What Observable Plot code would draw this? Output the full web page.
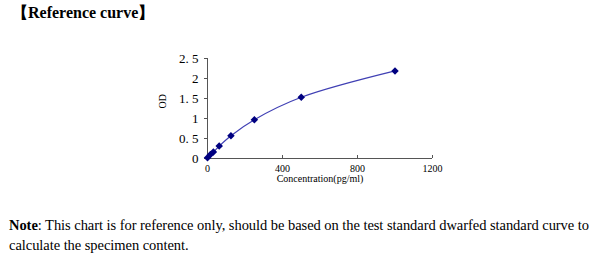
<!DOCTYPE html>
<html><head><meta charset="utf-8">
<script src="https://cdn.jsdelivr.net/npm/d3@7"></script>
<script src="https://cdn.jsdelivr.net/npm/@observablehq/plot@0.6"></script>
<style>
body{margin:0;background:#fff;width:600px;height:261px;overflow:hidden;position:relative;font-family:"Liberation Serif",serif;color:#000}
#head{position:absolute;left:12px;top:3px;font-size:16px;font-weight:bold}
#title{position:absolute;left:0;width:600px;top:35px;text-align:center;font-size:10px}
#chart{position:absolute;left:0;top:25px}
#note{position:absolute;left:9px;top:215px;width:590px;font-size:14.5px;line-height:20px;letter-spacing:-0.05px}
</style></head>
<body>
<div id="head">【Reference curve】</div>
<div id="title">Canine uPA</div>
<div id="chart"></div>
<div id="note"><b>Note</b>: This chart is for reference only, should be based on the test standard dwarfed standard curve to calculate the specimen content.</div>
<script>
const concentration = [0, 15.6, 31.25, 62.5, 125, 250, 500, 1000];
const od = [0.02, 0.1, 0.16, 0.31, 0.57, 0.97, 1.53, 2.19];
const xTicks = [0, 400, 800, 1200];
const yTicks = [0, 0.5, 1, 1.5, 2, 2.5];
const yTickLabels = ["0", "0. 5", "1", "1. 5", "2", "2. 5"];
const data = concentration.map((c, i) => ({c, v: od[i]}));

const chart = Plot.plot({
  width: 600, height: 175,
  marginLeft: 207, marginRight: 168, marginTop: 33, marginBottom: 42,
  style: {fontFamily: "Liberation Serif, serif", color: "#000", background: "#fff"},
  x: {domain: [0, 1200]},
  y: {domain: [0, 2.5]},
  marks: [
    Plot.ruleX([0], {stroke: "#555"}),
    Plot.ruleY([0], {stroke: "#555"}),
    Plot.axisY({ticks: yTicks, tickSize: 3, tickPadding: 6, stroke: "#555", fontSize: 13,
      tickFormat: (d) => yTickLabels[yTicks.indexOf(d)], label: null}),
    Plot.axisX({ticks: xTicks, tickSize: -3, tickPadding: 9, stroke: "#555", fontSize: 10,
      tickFormat: (d) => String(d), label: null}),
    Plot.text(["OD"], {frameAnchor: "left", dx: -45, rotate: -90, fontSize: 10}),
    Plot.text(["Concentration(pg/ml)"], {frameAnchor: "bottom", dy: 23, fontSize: 10}),
    Plot.line(data, {x: "c", y: "v", stroke: "#4040b4", strokeWidth: 1.2, curve: "catmull-rom"}),
    Plot.dot(data, {x: "c", y: "v", symbol: "square", rotate: 45, r: 3, fill: "#000080"})
  ]
});
document.getElementById("chart").appendChild(chart);
</script>
</body></html>
